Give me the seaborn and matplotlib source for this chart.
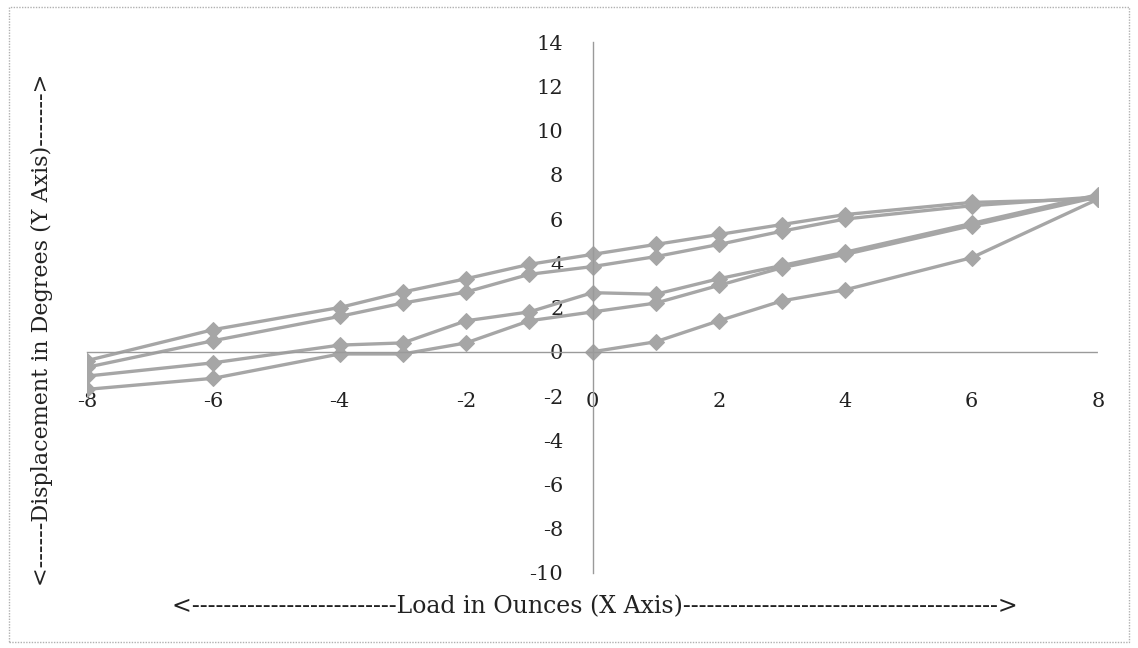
import matplotlib
matplotlib.use("Agg")
import matplotlib.pyplot as plt
import matplotlib.patches as mpatches
import numpy as np
import pandas as pd
import seaborn as sns

# Load steps (ounces) for each branch of the hysteresis test
load_initial = [0, 1, 2, 3, 4, 6, 8]
load_down = [8, 6, 4, 3, 2, 1, 0, -1, -2, -3, -4, -6, -8]
load_up = [-8, -6, -4, -3, -2, -1, 0, 1, 2, 3, 4, 6, 8]

# Measured displacement (degrees) for each branch
disp_initial = [0.0, 0.45, 1.4, 2.3, 2.8, 4.25, 6.9]
disp_unload_1 = [6.9, 6.75, 6.2, 5.75, 5.3, 4.85, 4.4, 3.95, 3.3, 2.7, 2.0, 1.0, -0.4]
disp_load_1 = [-1.7, -1.2, -0.1, -0.1, 0.4, 1.4, 1.8, 2.2, 3.0, 3.8, 4.4, 5.7, 7.0]
disp_unload_2 = [7.0, 6.6, 6.0, 5.45, 4.85, 4.3, 3.85, 3.5, 2.7, 2.2, 1.6, 0.5, -0.7]
disp_load_2 = [-1.1, -0.5, 0.3, 0.4, 1.4, 1.8, 2.67, 2.6, 3.3, 3.9, 4.5, 5.8, 7.1]

x_ticks = [-8, -6, -4, -2, 0, 2, 4, 6, 8]
y_ticks = [-10, -8, -6, -4, -2, 0, 2, 4, 6, 8, 10, 12, 14]

branches = [
    ("initial", load_initial, disp_initial),
    ("unload 1", load_down, disp_unload_1),
    ("load 1", load_up, disp_load_1),
    ("unload 2", load_down, disp_unload_2),
    ("load 2", load_up, disp_load_2),
]
frames = []
for name, xs, ys in branches:
    frames.append(pd.DataFrame({"branch": name, "load": xs, "disp": ys}))
df = pd.concat(frames, ignore_index=True)

sns.set_style("white")
plt.rcParams["font.family"] = ["DejaVu Serif"]
plt.rcParams["axes.unicode_minus"] = False

fig = plt.figure(figsize=(11.38, 6.48), dpi=100)
ax = fig.add_axes([87 / 1138, 1 - 573 / 648, (1098 - 87) / 1138, (573 - 42) / 648])

gray = "#a6a6a6"
sns.lineplot(data=df, x="load", y="disp", hue="branch", units="branch",
             estimator=None, sort=False, palette=[gray] * len(branches),
             marker="D", markersize=8.5, markeredgecolor=gray, linewidth=2.4,
             legend=False, ax=ax)

ax.set_xlim(-8, 8)
ax.set_ylim(-10, 14)
ax.set_xticks(x_ticks)
ax.set_yticks(y_ticks)

for side in ("top", "right"):
    ax.spines[side].set_visible(False)
ax.spines["left"].set_position(("data", 0))
ax.spines["bottom"].set_position(("data", 0))
for side in ("left", "bottom"):
    ax.spines[side].set_color("#9a9a9a")
    ax.spines[side].set_linewidth(1.0)
    ax.spines[side].set_linestyle((0, (1, 1)))

ax.tick_params(axis="both", length=0, labelsize=15, colors="#222222")
ax.tick_params(axis="x", pad=29)
ax.tick_params(axis="y", pad=21)
ax.set_xlabel("")
ax.set_ylabel("")
ax.grid(False)

fig.text(595 / 1138, 1 - 607 / 648,
         "<" + "-" * 26 + "Load in Ounces (X Axis)" + "-" * 40 + ">",
         ha="center", va="center", fontsize=17, color="#222222")
fig.text(42 / 1138, 1 - 330 / 648,
         "<------Displacement in Degrees (Y Axis)------->",
         ha="center", va="center", rotation=90, fontsize=16, color="#222222")

border = mpatches.Rectangle((9 / 1138, 6 / 648), 1 - 18 / 1138, 1 - 13 / 648,
                            transform=fig.transFigure, fill=False,
                            edgecolor="#b0b0b0", linewidth=1.0,
                            linestyle=(0, (1, 1)))
fig.patches.append(border)

fig.savefig("out.png", dpi=100)
